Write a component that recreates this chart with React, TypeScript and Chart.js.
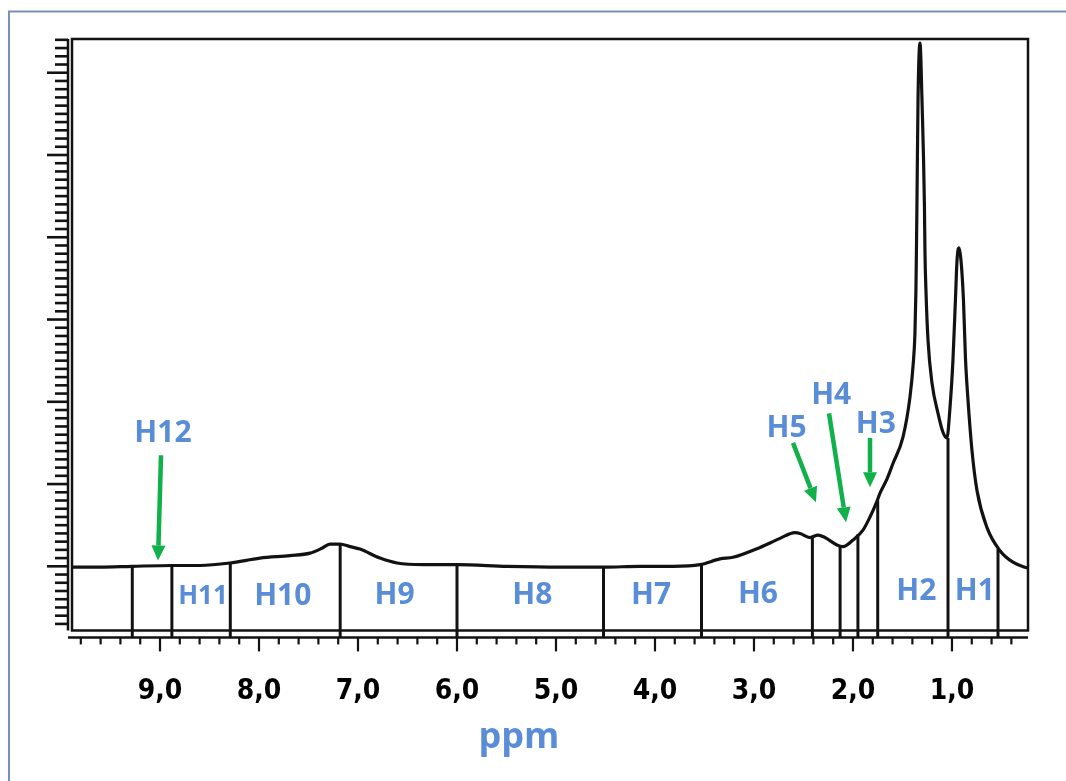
import React, { useEffect, useRef } from 'react';
import { Chart, registerables } from 'chart.js';

Chart.register(...registerables);

// ---- Data (ppm, intensity in arbitrary units; 10 units = one major y tick) ----
const SPECTRUM_PPM = [
  9.889, 9.606, 9.283, 8.879, 8.596, 8.293, 7.99, 7.687, 7.485, 7.364, 7.283, 7.182, 7.081, 6.98,
  6.778, 6.606, 6.343, 6.0, 5.495, 4.96, 4.515, 4.152, 3.818, 3.545, 3.343, 3.212, 2.939, 2.737,
  2.586, 2.535, 2.434, 2.353, 2.283, 2.162, 2.101, 2.0, 1.899, 1.828, 1.758, 1.727, 1.657, 1.596,
  1.495, 1.424, 1.391, 1.374, 1.364, 1.359, 1.354, 1.343, 1.323, 1.303, 1.278, 1.273, 1.263, 1.242,
  1.202, 1.141, 1.091, 1.051, 1.02, 0.99, 0.965, 0.949, 0.929, 0.909, 0.884, 0.864, 0.838, 0.798,
  0.747, 0.646, 0.515, 0.384, 0.263, 0.232,
];
const SPECTRUM_INT = [
  -0.1, -0.1, 0.0, 0.1, 0.1, 0.4, 1.0, 1.3, 1.6, 2.2, 2.7, 2.7, 2.4, 2.1,
  1.0, 0.4, 0.2, 0.2, 0.0, -0.1, -0.1, 0.0, 0.0, 0.2, 0.9, 1.1, 2.3, 3.4,
  4.1, 4.0, 3.5, 3.8, 3.5, 2.6, 2.4, 3.2, 4.4, 6.0, 7.9, 8.9, 10.6, 12.5,
  15.7, 20.6, 24.7, 28.3, 33.6, 38.4, 43.7, 56.7, 63.6, 56.7, 43.7, 38.4, 33.6, 27.5,
  22.3, 18.6, 16.3, 15.6, 19.3, 25.1, 32.4, 37.2, 38.7, 37.2, 32.4, 25.4, 20.2, 14.1,
  9.2, 4.7, 1.9, 0.5, -0.1, -0.2,
];

// integration region dividers
const DIVIDER_PPM = [9.28, 8.88, 8.29, 7.18, 6.0, 4.52, 3.53, 2.41, 2.13, 1.95, 1.75, 1.04, 0.535];
const DIVIDER_TOP = [0.0, 0.1, 0.4, 2.7, 0.2, -0.1, 0.2, 3.6, 2.6, 3.9, 8.0, 15.6, 2.1];

// region labels
const REGION_LABELS = ['H12', 'H11', 'H10', 'H9', 'H8', 'H7', 'H6', 'H5', 'H4', 'H3', 'H2', 'H1'];
const REGION_LABEL_PPM = [8.97, 8.566, 7.76, 6.63, 5.24, 4.04, 2.96, 2.67, 2.22, 1.77, 1.36, 0.77];
const REGION_LABEL_INT = [16.3, -3.5, -3.5, -3.4, -3.4, -3.4, -3.3, 16.9, 20.9, 17.4, -2.9, -2.9];

// arrows (H12, H5, H4, H3)
const ARROW_FROM_PPM = [8.99, 2.606, 2.242, 1.828];
const ARROW_FROM_INT = [13.5, 15.0, 18.6, 15.6];
const ARROW_TO_PPM = [9.02, 2.374, 2.07, 1.828];
const ARROW_TO_INT = [0.7, 7.8, 5.35, 9.6];

// axes
const X_TICK_VALUES = [9, 8, 7, 6, 5, 4, 3, 2, 1];
const X_TICK_LABELS = ['9,0', '8,0', '7,0', '6,0', '5,0', '4,0', '3,0', '2,0', '1,0'];
const X_MIN = 0.232;
const X_MAX = 9.889;
const Y_MIN = -8.64;
const Y_MAX = 64.1;
const Y_BOX_BOTTOM = -7.8;
const AXIS_TITLE = 'ppm';

const BLUE = '#5A8DD8';
const GREEN = '#10B04A';
const INK = '#121212';

const decorPlugin = {
  id: 'nmrDecor',
  beforeDatasetsDraw(chart: any) {
    const { ctx, chartArea } = chart;
    const xs = chart.scales.x;
    const ys = chart.scales.y;
    ctx.save();
    // outer slide frame
    ctx.strokeStyle = '#7890B6';
    ctx.lineWidth = 2;
    ctx.beginPath();
    ctx.moveTo(9, 790);
    ctx.lineTo(9, 11.5);
    ctx.lineTo(1070, 11.5);
    ctx.stroke();

    const boxBottom = ys.getPixelForValue(Y_BOX_BOTTOM);
    ctx.strokeStyle = INK;
    ctx.lineWidth = 2.5;
    // plot box
    ctx.strokeRect(chartArea.left, chartArea.top, chartArea.right - chartArea.left, boxBottom - chartArea.top);
    // y axis line
    const yAxisX = chartArea.left - 4;
    ctx.beginPath();
    ctx.moveTo(yAxisX, chartArea.top);
    ctx.lineTo(yAxisX, boxBottom);
    ctx.stroke();
    // x axis line
    ctx.beginPath();
    ctx.moveTo(yAxisX, chartArea.bottom);
    ctx.lineTo(chartArea.right, chartArea.bottom);
    ctx.stroke();

    // y ticks
    ctx.lineWidth = 2.6;
    for (let v = Math.ceil(Y_MIN); v <= Math.floor(Y_MAX); v++) {
      const py = ys.getPixelForValue(v);
      if (py > boxBottom + 0.5) continue;
      const major = v % 10 === 0;
      ctx.beginPath();
      ctx.moveTo(yAxisX, py);
      ctx.lineTo(yAxisX - (major ? 21 : 13), py);
      ctx.stroke();
    }
    // x ticks
    ctx.lineWidth = 2.2;
    for (let k = Math.ceil(X_MIN / 0.2); k <= Math.floor(X_MAX / 0.2); k++) {
      const px = xs.getPixelForValue(k * 0.2);
      const major = k % 5 === 0;
      ctx.beginPath();
      ctx.moveTo(px, chartArea.bottom);
      ctx.lineTo(px, chartArea.bottom + (major ? 14 : 7));
      ctx.stroke();
    }
    ctx.restore();
  },
  afterDatasetsDraw(chart: any) {
    const { ctx } = chart;
    const xs = chart.scales.x;
    const ys = chart.scales.y;
    ctx.save();
    // arrows
    ctx.strokeStyle = GREEN;
    ctx.fillStyle = GREEN;
    for (let i = 0; i < ARROW_FROM_PPM.length; i++) {
      const x1 = xs.getPixelForValue(ARROW_FROM_PPM[i]);
      const y1 = ys.getPixelForValue(ARROW_FROM_INT[i]);
      const x2 = xs.getPixelForValue(ARROW_TO_PPM[i]);
      const y2 = ys.getPixelForValue(ARROW_TO_INT[i]);
      const ang = Math.atan2(y2 - y1, x2 - x1);
      const headLen = 15;
      const headW = 7;
      const bx = x2 - headLen * Math.cos(ang);
      const by = y2 - headLen * Math.sin(ang);
      ctx.lineWidth = 4.5;
      ctx.beginPath();
      ctx.moveTo(x1, y1);
      ctx.lineTo(bx, by);
      ctx.stroke();
      ctx.beginPath();
      ctx.moveTo(x2, y2);
      ctx.lineTo(bx + headW * Math.sin(ang), by - headW * Math.cos(ang));
      ctx.lineTo(bx - headW * Math.sin(ang), by + headW * Math.cos(ang));
      ctx.closePath();
      ctx.fill();
    }
    // region labels
    ctx.fillStyle = BLUE;
    ctx.textAlign = 'center';
    ctx.textBaseline = 'middle';
    for (let i = 0; i < REGION_LABELS.length; i++) {
      const size = REGION_LABELS[i] === 'H11' ? 26 : 30;
      ctx.font = `bold ${size}px "Open Sans", Lato, sans-serif`;
      ctx.fillText(
        REGION_LABELS[i],
        xs.getPixelForValue(REGION_LABEL_PPM[i]),
        ys.getPixelForValue(REGION_LABEL_INT[i]) + 1
      );
    }
    // axis title
    ctx.font = 'bold 36px "Open Sans", Lato, sans-serif';
    ctx.textBaseline = 'alphabetic';
    ctx.fillText(AXIS_TITLE, 519, 748);
    ctx.restore();
  },
};

export default function App() {
  const canvasRef = useRef<HTMLCanvasElement | null>(null);

  useEffect(() => {
    const canvas = canvasRef.current;
    if (!canvas) return;
    const spectrum = SPECTRUM_PPM.map((p, i) => ({ x: p, y: SPECTRUM_INT[i] }));
    const dividerSets = DIVIDER_PPM.map((p, i) => ({
      type: 'scatter' as const,
      data: [
        { x: p, y: DIVIDER_TOP[i] },
        { x: p, y: Y_MIN },
      ],
      showLine: true,
      borderColor: INK,
      borderWidth: 3,
      pointRadius: 0,
      fill: false,
    }));
    const chart = new Chart(canvas, {
      type: 'scatter',
      data: {
        datasets: [
          {
            data: spectrum,
            showLine: true,
            borderColor: INK,
            borderWidth: 3.2,
            pointRadius: 0,
            cubicInterpolationMode: 'monotone',
            fill: false,
          } as any,
          ...dividerSets,
        ],
      },
      options: {
        responsive: false,
        animation: false,
        events: [],
        layout: { padding: { left: 72, top: 39, right: 38, bottom: 34 } },
        plugins: { legend: { display: false }, tooltip: { enabled: false } },
        scales: {
          x: {
            type: 'linear',
            reverse: true,
            min: X_MIN,
            max: X_MAX,
            grid: { display: false, drawTicks: false },
            border: { display: false },
            afterBuildTicks: (scale: any) => {
              scale.ticks = X_TICK_VALUES.map((v) => ({ value: v }));
            },
            ticks: {
              autoSkip: false,
              maxRotation: 0,
              padding: 38,
              color: '#000',
              font: { family: '"Liberation Sans Narrow", "DejaVu Sans Condensed", sans-serif', size: 28, weight: 'bold' },
              callback: (v: any) => {
                const idx = X_TICK_VALUES.findIndex((t) => Math.abs(t - Number(v)) < 1e-6);
                return idx >= 0 ? X_TICK_LABELS[idx] : '';
              },
            },
          },
          y: {
            type: 'linear',
            min: Y_MIN,
            max: Y_MAX,
            display: false,
          },
        },
      },
      plugins: [decorPlugin],
    } as any);
    return () => chart.destroy();
  }, []);

  return (
    <div style={{ position: 'absolute', left: 0, top: 0, width: 1066, height: 781, background: '#fff' }}>
      <canvas ref={canvasRef} width={1066} height={781} style={{ display: 'block' }} />
    </div>
  );
}
